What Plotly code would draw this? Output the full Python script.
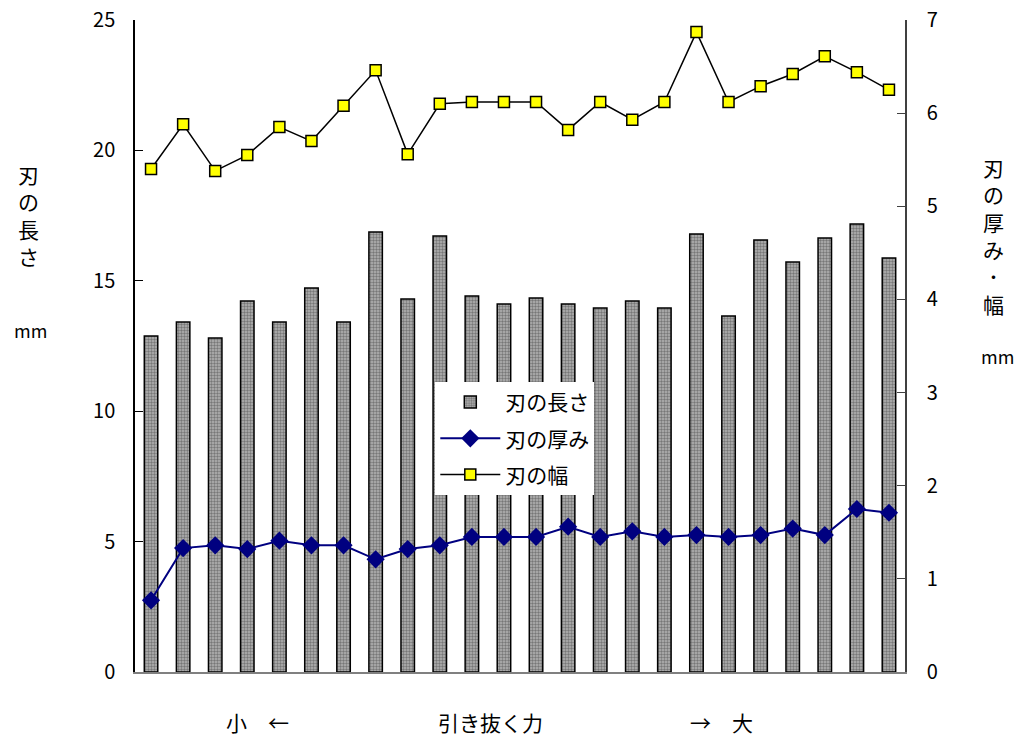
import plotly.graph_objects as go

# 24 samples ordered by pull-out force (small -> large)
samples = list(range(1, 25))
blade_length = [12.88, 13.42, 12.81, 14.23, 13.42, 14.72, 13.42, 16.87, 14.30, 16.72,
                14.42, 14.11, 14.34, 14.11, 13.96, 14.23, 13.96, 16.79, 13.65, 16.56,
                15.72, 16.64, 17.18, 15.87]
blade_thickness = [0.77, 1.33, 1.36, 1.32, 1.41, 1.36, 1.36, 1.21, 1.32, 1.36,
                   1.45, 1.45, 1.45, 1.56, 1.45, 1.51, 1.45, 1.47, 1.45, 1.47,
                   1.54, 1.47, 1.75, 1.71]
blade_width = [5.40, 5.88, 5.38, 5.55, 5.85, 5.70, 6.08, 6.46, 5.56, 6.10,
               6.12, 6.12, 6.12, 5.82, 6.12, 5.93, 6.12, 6.87, 6.12, 6.29,
               6.42, 6.61, 6.44, 6.25]
left_ticks = [0, 5, 10, 15, 20, 25]
right_ticks = [0, 1, 2, 3, 4, 5, 6, 7]

FONT = "Noto Sans CJK JP"
W, H = 1020, 738
ML, MR, MT, MB = 135, 115, 20, 66

fig = go.Figure()
fig.add_trace(go.Bar(
    x=samples, y=blade_length, name="刃の長さ", width=0.42, legendgroup="a",
    marker=dict(color="#8c8c8c", line=dict(color="black", width=1.5),
                pattern=dict(shape=".", size=3, solidity=0.5,
                             fgcolor="#3a3a3a", bgcolor="#b4b4b4")),
))
fig.add_trace(go.Scatter(
    x=samples, y=blade_thickness, name="刃の厚み", yaxis="y2", mode="lines+markers",
    legendgroup="b",
    line=dict(color="#000080", width=2),
    marker=dict(symbol="diamond", size=14, color="#000080"),
))
fig.add_trace(go.Scatter(
    x=samples, y=blade_width, name="刃の幅", yaxis="y2", mode="lines+markers",
    legendgroup="c",
    line=dict(color="black", width=1.5),
    marker=dict(symbol="square", size=11, color="#ffff00",
                line=dict(color="black", width=1.5)),
))

fig.update_layout(
    width=W, height=H,
    margin=dict(l=ML, r=MR, t=MT, b=MB, autoexpand=False),
    paper_bgcolor="white", plot_bgcolor="white",
    font=dict(family=FONT, size=20, color="black"),
    showlegend=True,
    legend=dict(x=0.39, y=0.445, xanchor="left", yanchor="top",
                bgcolor="white", borderwidth=0, font=dict(size=21),
                itemwidth=60, tracegroupgap=6, traceorder="grouped"),
    xaxis=dict(range=[0.5, 24.5], showticklabels=False, ticks="",
               showgrid=False, zeroline=False, showline=True, automargin=False,
               linecolor="#808080", linewidth=1.5),
    yaxis=dict(range=[0, 25], tickvals=left_ticks, ticks="inside", ticklen=8,
               tickcolor="black", showgrid=False, zeroline=False, showline=True,
               automargin=False,
               linecolor="black", linewidth=1.5, ticklabelstandoff=14),
    yaxis2=dict(range=[0, 7], tickvals=right_ticks, overlaying="y", side="right",
                ticks="inside", ticklen=8, tickcolor="#404040", showgrid=False,
                zeroline=False, showline=True, linecolor="#404040", linewidth=1.5,
                automargin=False, ticklabelstandoff=16),
)

# labels placed by page pixel position (centre)
labels = [
    dict(text="刃<br>の<br>長<br>さ", x=28, y=215, size=21),
    dict(text="mm", x=30, y=330, size=18),
    dict(text="刃<br>の<br>厚<br>み<br>･<br>幅", x=993, y=236, size=21),
    dict(text="mm", x=997, y=356, size=18),
    dict(text="小　←", x=257, y=722, size=21),
    dict(text="引き抜く力", x=490, y=722, size=21),
    dict(text="→　大", x=721, y=722, size=21),
]
pw, ph = W - ML - MR, H - MT - MB
for a in labels:
    fig.add_annotation(text=a["text"],
                       x=(a["x"] - ML) / pw, y=1 - (a["y"] - MT) / ph,
                       xref="paper", yref="paper", showarrow=False,
                       xanchor="center", yanchor="middle",
                       font=dict(family=FONT, size=a["size"], color="black"))

fig.write_html("out.html")
